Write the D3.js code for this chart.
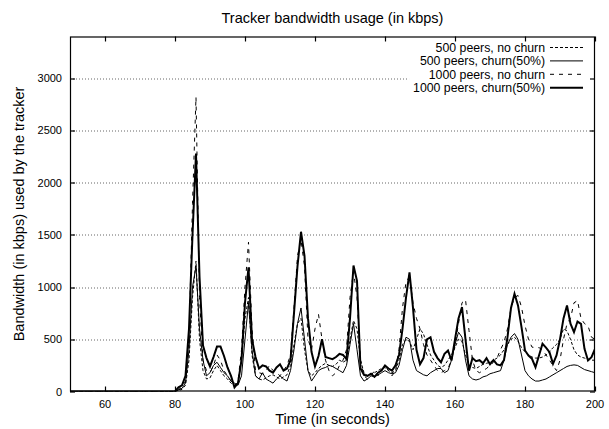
<html>
<head>
<title>Tracker bandwidth usage</title>
<script src="https://d3js.org/d3.v7.min.js"></script>
<style>
    body { margin: 0; background: #fff; }
    text { font-family: "Liberation Sans", Arial, Helvetica, sans-serif; fill: #000; }
</style>
</head>
<body>
<div id="chart"></div>
<script type="text/javascript">
    // time axis, one sample per second (50 .. 200)
    var times = d3.range(50, 201);
    var xTicks = [60, 80, 100, 120, 140, 160, 180, 200];
    var yTicks = [0, 500, 1000, 1500, 2000, 2500, 3000];

    // nothing happens before t=80
    var quiet = [0,0,0,0,0,0,0,0,0,0, 0,0,0,0,0,0,0,0,0,0, 0,0,0,0,0,0,0,0,0,0];

    var peers500NoChurn = quiet.concat([
        0,10,20,60,300,900,1250,500,200,120,130,200,250,200,150,120,80,60,80,300,
        700,900,350,150,120,110,130,150,160,140,120,140,160,250,450,650,700,400,200,150,
        180,220,250,270,250,240,260,300,280,300,500,680,600,300,180,150,160,180,200,220,
        230,200,180,200,300,450,500,480,400,500,600,550,450,350,300,250,230,250,300,350,
        420,500,480,350,250,230,220,240,260,270,280,300,320,350,400,450,500,520,480,420,
        380,350,330,320,320,330,350,380,420,450,500,600,580,500,400,350,330,320,310,300,300]);

    var peers500Churn = quiet.concat([
        0,15,30,80,400,1000,1200,600,300,150,180,250,280,230,180,150,100,80,60,150,
        500,850,400,150,120,180,120,100,80,120,150,120,100,200,400,650,800,500,200,100,
        150,200,220,230,250,240,220,200,180,250,450,650,400,150,100,120,150,140,160,180,
        200,180,170,180,250,400,520,500,300,200,180,160,150,180,200,220,220,180,200,300,
        450,568,520,300,150,120,110,120,140,150,170,180,190,200,300,450,520,555,500,350,
        200,150,120,100,100,110,120,140,160,180,200,220,240,250,255,250,230,210,200,190,180]);

    var peers1000NoChurn = quiet.concat([
        0,20,40,100,500,1800,2820,900,300,200,180,250,350,300,200,150,100,50,100,400,
        1000,1430,600,200,180,170,200,250,200,180,150,200,250,350,800,1300,1450,1200,500,400,
        600,740,500,300,200,150,180,250,300,400,900,1150,900,300,150,120,150,200,150,200,
        250,200,150,200,400,800,1050,1100,850,700,600,450,350,300,250,200,180,200,220,300,
        450,650,850,880,584,300,200,180,200,220,250,280,320,400,470,600,800,900,920,808,
        632,500,425,420,420,400,350,300,250,200,300,500,650,700,850,870,700,650,630,520,500]);

    var peers1000Churn = quiet.concat([
        0,40,60,150,600,1500,2280,1100,440,320,240,330,430,430,340,230,150,40,80,300,
        850,1190,500,330,220,250,240,200,180,230,260,200,220,300,750,1200,1530,1300,700,380,
        240,340,500,330,320,310,330,360,350,310,700,1207,1060,220,160,150,170,140,180,200,
        250,220,200,250,350,600,900,1140,800,400,260,320,500,520,380,320,280,360,393,297,
        500,700,808,500,200,320,290,300,270,320,260,300,260,250,300,520,800,936,824,616,
        393,345,313,233,345,457,420,377,265,345,500,700,824,650,568,670,648,409,297,329,409]);

    var seriesNames = ["500 peers, no churn", "500 peers, churn(50%)", "1000 peers, no churn", "1000 peers, churn(50%)"];
    var seriesValues = [peers500NoChurn, peers500Churn, peers1000NoChurn, peers1000Churn];
    // line looks, same order as the names
    var seriesDash = ["3,2", null, "4,5", null];
    var seriesWidth = [1, 1, 1, 2];

    var svgWidth = 609, svgHeight = 429;
    var margin = {top: 36.5, right: 14, bottom: 37.5, left: 70};
    var width = svgWidth - margin.left - margin.right;
    var height = svgHeight - margin.top - margin.bottom;

    var x = d3.scaleLinear().domain([50, 200]).range([0, width]);
    var y = d3.scaleLinear().domain([0, 3400]).range([height, 0]);

    var svg = d3.select("#chart").append("svg")
        .attr("width", svgWidth)
        .attr("height", svgHeight);

    var g = svg.append("g")
        .attr("transform", "translate(" + margin.left + "," + margin.top + ")");

    // horizontal dotted grid
    g.selectAll(".grid")
        .data(yTicks.filter(function(d) { return d > 0; }))
        .enter().append("line")
        .attr("class", "grid")
        .attr("x1", 0)
        .attr("x2", width)
        .attr("y1", function(d) { return Math.round(y(d)) + 0.5; })
        .attr("y2", function(d) { return Math.round(y(d)) + 0.5; })
        .attr("stroke", "#666")
        .attr("stroke-width", 1)
        .attr("stroke-dasharray", "1,2");

    g.append("clipPath").attr("id", "clip")
        .append("rect").attr("width", width).attr("height", height);

    var line = d3.line()
        .x(function(d, i) { return x(times[i]); })
        .y(function(d) { return y(d); });

    g.append("g").attr("clip-path", "url(#clip)")
        .selectAll("path")
        .data(seriesValues)
        .enter().append("path")
        .attr("fill", "none")
        .attr("stroke", "#000")
        .attr("stroke-width", function(d, i) { return seriesWidth[i]; })
        .attr("stroke-dasharray", function(d, i) { return seriesDash[i]; })
        .attr("stroke-linejoin", "miter")
        .attr("d", line);

    // legend, top right, opaque so the grid stops behind it
    var legend = g.append("g");
    var legendRight = 475, rowGap = 13.4, rowTop = 11;
    var legendBox = legend.append("rect").attr("fill", "#fff");
    var labels = legend.selectAll("text")
        .data(seriesNames)
        .enter().append("text")
        .attr("x", legendRight)
        .attr("y", function(d, i) { return rowTop + i * rowGap + 4.3; })
        .attr("text-anchor", "end")
        .style("font-size", "12.3px")
        .text(function(d) { return d; });
    legend.selectAll("line")
        .data(seriesNames)
        .enter().append("line")
        .attr("x1", legendRight + 5)
        .attr("x2", legendRight + 38)
        .attr("y1", function(d, i) { return rowTop + i * rowGap; })
        .attr("y2", function(d, i) { return rowTop + i * rowGap; })
        .attr("stroke", "#000")
        .attr("stroke-width", function(d, i) { return seriesWidth[i]; })
        .attr("stroke-dasharray", function(d, i) { return seriesDash[i]; });
    var maxLabel = 0;
    labels.each(function() { maxLabel = Math.max(maxLabel, this.getComputedTextLength()); });
    legendBox
        .attr("x", legendRight - maxLabel - 4)
        .attr("y", rowTop - 7)
        .attr("width", width - (legendRight - maxLabel - 4) - 1)
        .attr("height", 3 * rowGap + 14);

    // frame with inward ticks on all four sides
    g.append("rect")
        .attr("x", 0.5).attr("y", 0.5)
        .attr("width", width - 1).attr("height", height - 1)
        .attr("fill", "none").attr("stroke", "#000").attr("stroke-width", 1.2);

    var tickLen = 5;
    xTicks.forEach(function(t) {
        var px = Math.round(x(t)) + 0.5;
        g.append("line").attr("x1", px).attr("x2", px).attr("y1", height).attr("y2", height - tickLen)
            .attr("stroke", "#000").attr("stroke-width", 1.2);
        g.append("line").attr("x1", px).attr("x2", px).attr("y1", 0).attr("y2", tickLen)
            .attr("stroke", "#000").attr("stroke-width", 1.2);
        g.append("text")
            .attr("x", x(t))
            .attr("y", height + 16)
            .attr("text-anchor", "middle")
            .style("font-size", "11px")
            .text(t);
    });
    yTicks.forEach(function(v) {
        var py = Math.round(y(v)) + 0.5;
        g.append("line").attr("x1", 0).attr("x2", tickLen).attr("y1", py).attr("y2", py)
            .attr("stroke", "#000").attr("stroke-width", 1.2);
        g.append("line").attr("x1", width).attr("x2", width - tickLen).attr("y1", py).attr("y2", py)
            .attr("stroke", "#000").attr("stroke-width", 1.2);
        g.append("text")
            .attr("x", -8)
            .attr("y", y(v) + 4)
            .attr("text-anchor", "end")
            .style("font-size", "11px")
            .text(v);
    });

    // titles
    svg.append("text")
        .attr("x", margin.left + width / 2)
        .attr("y", 23)
        .attr("text-anchor", "middle")
        .style("font-size", "14.5px")
        .text("Tracker bandwidth usage (in kbps)");

    svg.append("text")
        .attr("x", margin.left + width / 2)
        .attr("y", 424)
        .attr("text-anchor", "middle")
        .style("font-size", "14.5px")
        .text("Time (in seconds)");

    svg.append("text")
        .attr("transform", "translate(24," + (margin.top + height / 2) + ") rotate(-90)")
        .attr("text-anchor", "middle")
        .style("font-size", "14.5px")
        .text("Bandwidth (in kbps) used by the tracker");
</script>
</body>
</html>
